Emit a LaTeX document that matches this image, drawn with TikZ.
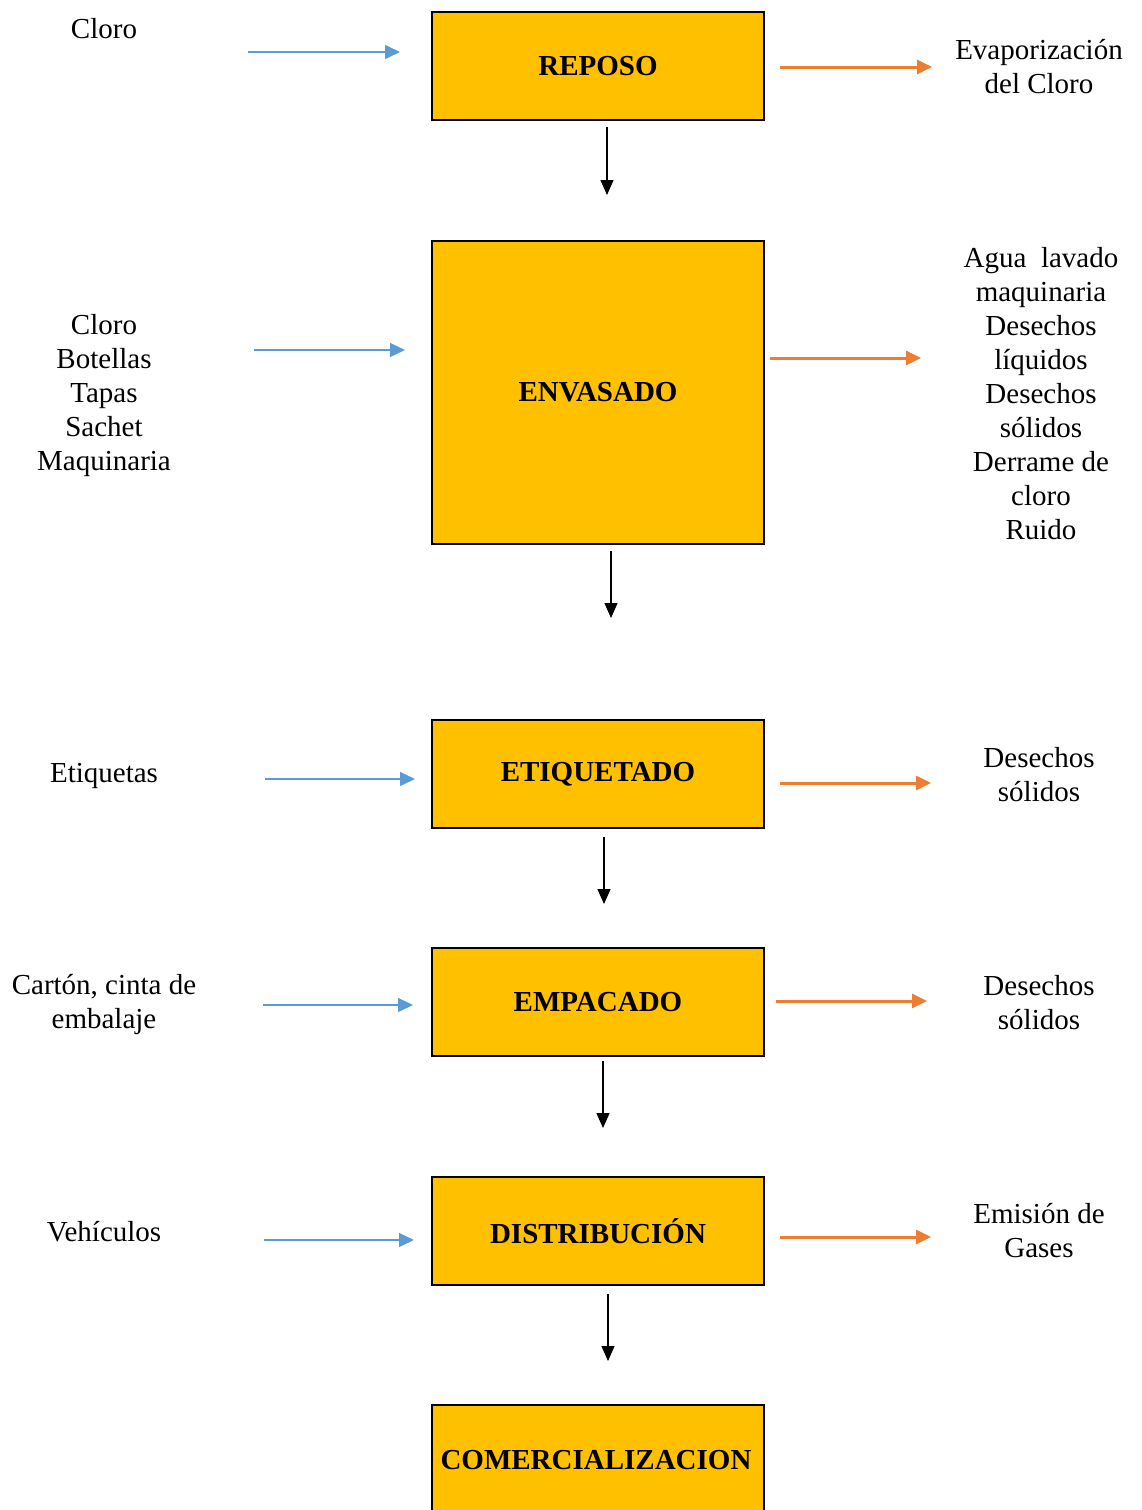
\documentclass[tikz,border=0pt]{standalone}
\usepackage{fontspec}
\setmainfont{Liberation Serif}
\usetikzlibrary{arrows.meta}
\definecolor{boxfill}{HTML}{FFC000}
\definecolor{inblue}{HTML}{5B9BD5}
\definecolor{outorange}{HTML}{ED7D31}
\begin{document}
\begin{tikzpicture}[x=1pt,y=-1pt,
  stage/.style={draw=black,line width=2pt,fill=boxfill,minimum width=332pt,
    font=\fontsize{29}{34}\selectfont\bfseries,anchor=north west,inner sep=0pt},
  label/.style={font=\fontsize{29}{34}\selectfont,align=center,inner sep=0pt},
  flow/.style={-{Triangle[length=15pt,width=13pt]},line width=1.3pt,black},
  input/.style={-{Triangle[length=15pt,width=14pt]},line width=1.3pt,inblue},
  output/.style={-{Triangle[length=15pt,width=14pt]},line width=3pt,outorange}]
\useasboundingbox (0,0) rectangle (1142,1510);
\begin{scope}
\clip (0,0) rectangle (1142,1510);
% process stages
\node[stage,minimum height=108pt] (reposo) at (431,11) {REPOSO};
\node[stage,minimum height=303pt] (envasado) at (431,240) {ENVASADO};
\node[stage,minimum height=108pt] (etiquetado) at (431,719) {ETIQUETADO};
\node[stage,minimum height=108pt] (empacado) at (431,947) {EMPACADO};
\node[stage,minimum height=108pt] (distribucion) at (431,1176) {DISTRIBUCIÓN};
\node[stage,minimum height=130pt] (comercial) at (431,1404) {};
\node[font=\fontsize{29}{34}\selectfont\bfseries] (comerciallabel) at (596,1460) {COMERCIALIZACION};
\end{scope}

% inputs
\node[label] (in1) at (104,29) {Cloro};
\node[label] (in2) at (104,396) {Cloro\\Botellas\\Tapas\\Sachet\\Maquinaria};
\node[label] (in3) at (104,776) {Etiquetas};
\node[label] (in4) at (104,1004) {Cartón, cinta de\\embalaje};
\node[label] (in5) at (104,1232) {Vehículos};

% outputs
\node[label] (out1) at (1039,67) {Evaporización\\del Cloro};
\node[label] (out2) at (1041,394) {Agua\ \ lavado\\maquinaria\\Desechos\\líquidos\\Desechos\\sólidos\\Derrame de\\cloro\\Ruido};
\node[label] (out3) at (1039,775) {Desechos\\sólidos};
\node[label] (out4) at (1039,1003) {Desechos\\sólidos};
\node[label] (out5) at (1039,1231) {Emisión de\\Gases};

% arrow end points
\coordinate (a1s) at (607,127);  \coordinate (a1e) at (607,195);
\coordinate (a2s) at (611,551);  \coordinate (a2e) at (611,618);
\coordinate (a3s) at (604,837);  \coordinate (a3e) at (604,904);
\coordinate (a4s) at (603,1061); \coordinate (a4e) at (603,1128);
\coordinate (a5s) at (608,1294); \coordinate (a5e) at (608,1361);

\coordinate (b1s) at (248,52);   \coordinate (b1e) at (400,52);
\coordinate (b2s) at (254,350);  \coordinate (b2e) at (405,350);
\coordinate (b3s) at (265,779);  \coordinate (b3e) at (415,779);
\coordinate (b4s) at (263,1005); \coordinate (b4e) at (413,1005);
\coordinate (b5s) at (264,1240); \coordinate (b5e) at (414,1240);

\coordinate (o1s) at (780,67);   \coordinate (o1e) at (932,67);
\coordinate (o2s) at (770,358);  \coordinate (o2e) at (921,358);
\coordinate (o3s) at (780,783);  \coordinate (o3e) at (931,783);
\coordinate (o4s) at (776,1001); \coordinate (o4e) at (927,1001);
\coordinate (o5s) at (780,1237); \coordinate (o5e) at (931,1237);

% main flow
\foreach \i in {1,...,5} \draw[flow] (a\i s) -- (a\i e);
% materials in
\foreach \i in {1,...,5} \draw[input] (b\i s) -- (b\i e);
% residues out
\foreach \i in {1,...,5} \draw[output] (o\i s) -- (o\i e);
\end{tikzpicture}
\end{document}
